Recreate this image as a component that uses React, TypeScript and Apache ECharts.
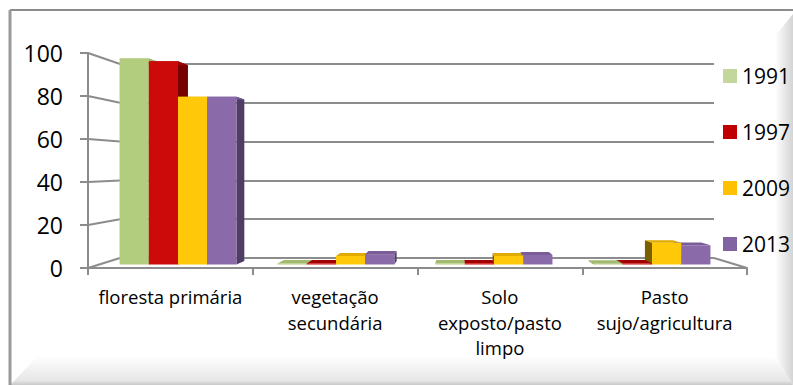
import React, { useEffect, useRef } from "react";
import * as echarts from "echarts";

const categories = [
  "floresta primária",
  "vegetação\nsecundária",
  "Solo\nexposto/pasto\nlimpo",
  "Pasto\nsujo/agricultura",
];
const years = ["1991", "1997", "2009", "2013"];
const values1991 = [99.5, 0.5, 0.6, 0.4];
const values1997 = [98.2, 0.5, 0.6, 0.5];
const values2009 = [81, 4.1, 4.1, 10.5];
const values2013 = [81, 5.0, 4.6, 9.3];
const yTicks = [0, 20, 40, 60, 80, 100];

const seriesValues = [values1991, values1997, values2009, values2013];
const frontColors = ["#b3cd7e", "#cc0a0a", "#ffc809", "#8a6aa8"];
const topColors = ["#a2ba70", "#a20000", "#e0ab00", "#7a5c98"];
const sideColors = ["#76884f", "#760000", "#7a5f00", "#4f3d66"];
const legendColors = ["#c3d69b", "#c00000", "#ffc000", "#8064a2"];

const FONT = "'Open Sans', Lato, sans-serif";
const FRONT = { left: 88, top: 53, width: 659, height: 215 };
const BACK = { left: 120, top: 64, width: 594, height: 194 };
const BARS = { left: 99, top: 57.5, width: 632, height: 207 };
const VP = { x: 455, y: 170 };
const K = 0.036;
const LINE = "#8c8c8c";

export default function App() {
  const ref = useRef<HTMLDivElement>(null);
  useEffect(() => {
    if (!ref.current) return;
    const chart = echarts.init(ref.current, null, { renderer: "svg" });

    const renderItem = (params: any, api: any) => {
      const cat = api.value(0);
      const val = api.value(1);
      const s = params.seriesIndex;
      const [cx, yTop] = api.coord([cat, val]);
      const yBase = api.coord([cat, 0])[1];
      const band = api.size([1, 0])[0];
      const bw = band * 0.185;
      const x0 = cx - 2 * bw + s * bw;
      const x1 = x0 + bw;
      const back = (x: number, y: number) => [x + (VP.x - x) * K, y + (VP.y - y) * K];
      const children: any[] = [];
      const sx = x1 < VP.x ? x1 : x0;
      children.push({
        type: "polygon",
        z2: 5,
        shape: { points: [[sx, yTop], [sx, yBase], back(sx, yBase), back(sx, yTop)] },
        style: { fill: sideColors[s] },
      });
      children.push({
        type: "polygon",
        z2: 6,
        shape: { points: [[x0, yTop], [x1, yTop], back(x1, yTop), back(x0, yTop)] },
        style: { fill: topColors[s] },
      });
      children.push({
        type: "rect",
        z2: 10,
        shape: { x: x0, y: yTop, width: bw, height: yBase - yTop },
        style: { fill: frontColors[s] },
      });
      return { type: "group", children };
    };

    const option: any = {
      animation: false,
      legend: {
        orient: "vertical",
        left: 723,
        top: 64,
        itemWidth: 14,
        itemHeight: 14,
        itemGap: 32,
        padding: 0,
        icon: "rect",
        selectedMode: false,
        textStyle: { fontFamily: FONT, fontSize: 21, color: "#000", lineHeight: 24 },
        data: years.map((y, i) => ({ name: y, itemStyle: { color: legendColors[i] } })),
      },
      grid: [{ ...FRONT }, { ...BACK }, { ...BARS }],
      xAxis: [
        {
          type: "category",
          gridIndex: 0,
          data: categories,
          axisLine: { show: true, lineStyle: { color: LINE, width: 2 } },
          axisTick: { show: true, length: 7, lineStyle: { color: LINE, width: 2 } },
          axisLabel: {
            interval: 0,
            margin: 16,
            fontFamily: FONT,
            fontSize: 18.5,
            lineHeight: 25.5,
            color: "#000",
          },
        },
        { type: "category", gridIndex: 1, data: categories, show: false },
        { type: "category", gridIndex: 2, data: categories, show: false },
      ],
      yAxis: [
        {
          type: "value",
          gridIndex: 0,
          min: 0,
          max: 100,
          interval: 20,
          axisLine: { show: true, lineStyle: { color: LINE, width: 2 } },
          axisTick: { show: true, length: 8, lineStyle: { color: LINE, width: 2 } },
          splitLine: { show: false },
          axisLabel: { margin: 25, fontFamily: FONT, fontSize: 23, color: "#000" },
        },
        {
          type: "value",
          gridIndex: 1,
          min: 0,
          max: 100,
          interval: 20,
          axisLine: { show: false },
          axisTick: { show: false },
          axisLabel: { show: false },
          splitLine: { show: true, lineStyle: { color: LINE, width: 2 } },
        },
        {
          type: "value",
          gridIndex: 2,
          min: 0,
          max: 100,
          interval: 20,
          show: false,
          splitLine: { show: false },
        },
      ],
      series: years.map((y, i) => ({
        name: y,
        type: "custom",
        xAxisIndex: 2,
        yAxisIndex: 2,
        itemStyle: { color: frontColors[i] },
        encode: { x: 0, y: 1 },
        data: seriesValues[i].map((v, c) => [c, v]),
        renderItem,
        z: 3,
      })),
    };
    chart.setOption(option);

    const connectors = yTicks.map((v) => {
      const fy = chart.convertToPixel({ yAxisIndex: 0 } as any, v) as number;
      const by = chart.convertToPixel({ yAxisIndex: 1 } as any, v) as number;
      return {
        type: "line",
        z: 1,
        shape: { x1: FRONT.left, y1: fy, x2: BACK.left, y2: by },
        style: { stroke: LINE, lineWidth: 2 },
      };
    });
    const f0 = chart.convertToPixel({ yAxisIndex: 0 } as any, 0) as number;
    const b0 = chart.convertToPixel({ yAxisIndex: 1 } as any, 0) as number;
    const floorRight = {
      type: "line",
      z: 1,
      shape: {
        x1: FRONT.left + FRONT.width,
        y1: f0,
        x2: BACK.left + BACK.width,
        y2: b0,
      },
      style: { stroke: LINE, lineWidth: 2 },
    };
    const frame = [
      {
        type: "polygon",
        z: -1,
        shape: { points: [[10, 385], [38, 356], [775, 356], [793, 385]] },
        style: {
          fill: new echarts.graphic.LinearGradient(0, 0, 0, 1, [
            { offset: 0, color: "#ffffff" },
            { offset: 0.85, color: "#e6e6e6" },
            { offset: 1, color: "#c8c8c8" },
          ]),
        },
      },
      {
        type: "polygon",
        z: -1,
        shape: { points: [[775, 36], [793, 14], [793, 385], [775, 356]] },
        style: {
          fill: new echarts.graphic.LinearGradient(0, 0, 1, 0, [
            { offset: 0, color: "#ffffff" },
            { offset: 1, color: "#d4d4d4" },
          ]),
        },
      },
      {
        type: "line",
        z: 0,
        shape: { x1: 10, y1: 10, x2: 793, y2: 10 },
        style: { stroke: "#8c8c8c", lineWidth: 2 },
      },
      {
        type: "line",
        z: 0,
        shape: { x1: 10, y1: 10, x2: 10, y2: 385 },
        style: { stroke: "#9a9a9a", lineWidth: 3 },
      },
    ];
    chart.setOption({ graphic: [...frame, ...connectors, floorRight] });

    return () => chart.dispose();
  }, []);
  return (
    <div
      ref={ref}
      style={{ position: "fixed", left: 0, top: 0, width: 793, height: 385, background: "#fff" }}
    />
  );
}
